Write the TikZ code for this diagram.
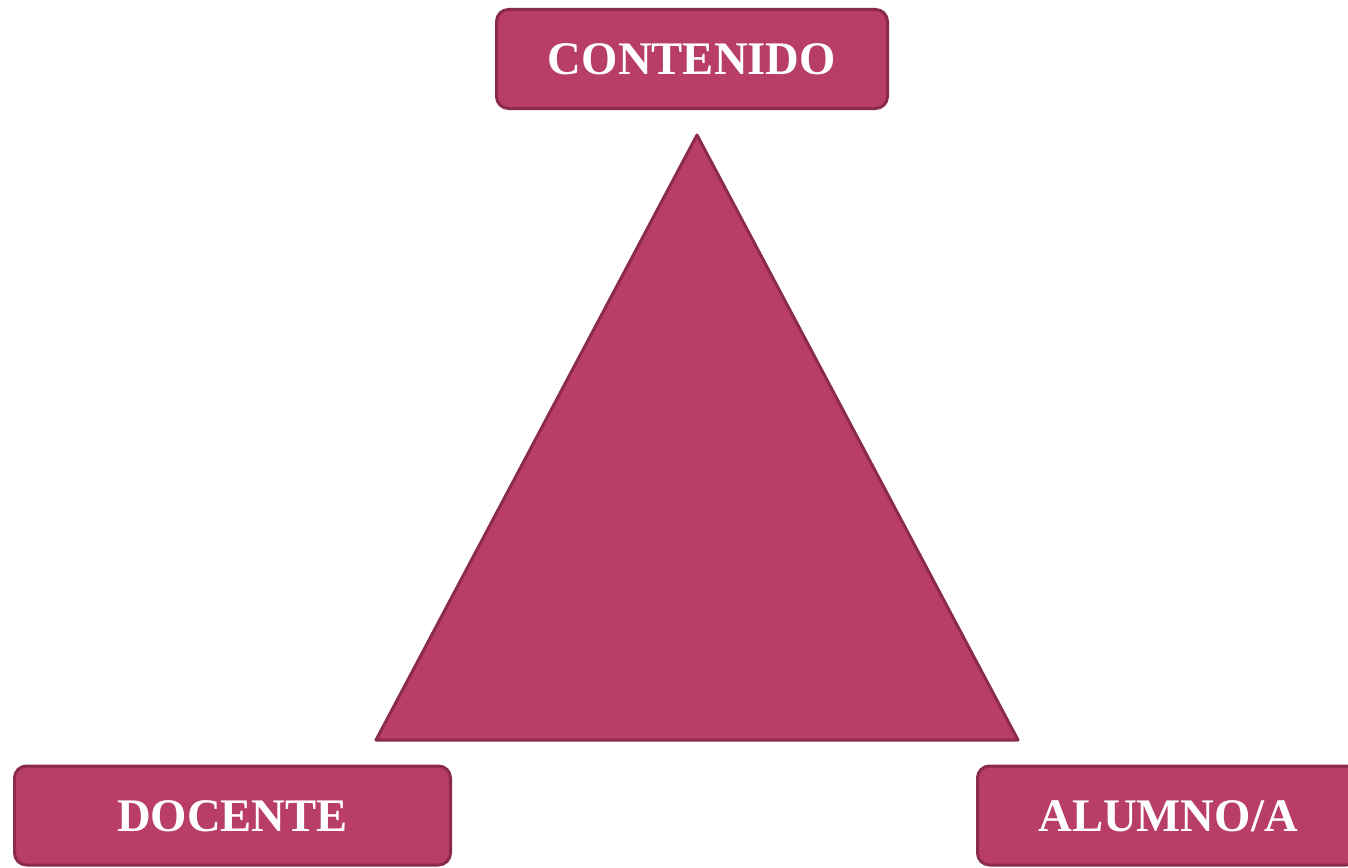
\documentclass[tikz,border=0pt]{standalone}
\usepackage{fontspec}
\setmainfont{Liberation Serif}
\usepackage{tikz}

\definecolor{rosa}{HTML}{B83D68}
\definecolor{rosaborde}{HTML}{8B2A4C}

\begin{document}
\begin{tikzpicture}[x=1pt,y=-1pt,
    caja/.style={draw=rosaborde, fill=rosa, line width=3pt, rounded corners=12pt,
        text=white, font=\bfseries\fontsize{46.7}{56}\selectfont, inner sep=0pt,
        text height=31pt, text depth=0pt, minimum height=99pt}]

                \useasboundingbox (0,0) rectangle (1348,867);
                \clip (0,0) rectangle (1348,867);

                % triangulo
                \coordinate (vertice) at (697,135);
                \coordinate (izq) at (376,740);
                \coordinate (der) at (1018,740);
                \draw[draw=rosaborde, fill=rosa, line width=3pt, line join=round] (vertice) -- (der) -- (izq) -- cycle;

                % vertices del triangulo didactico
                \node[caja, minimum width=391pt] (contenido) at (692,59) {CONTENIDO};
                \node[caja, minimum width=436pt] (docente) at (232.5,815.5) {DOCENTE};
                \node[caja, minimum width=381pt] (alumno) at (1168,815.5) {ALUMNO/A};
            \end{tikzpicture}
\end{document}
